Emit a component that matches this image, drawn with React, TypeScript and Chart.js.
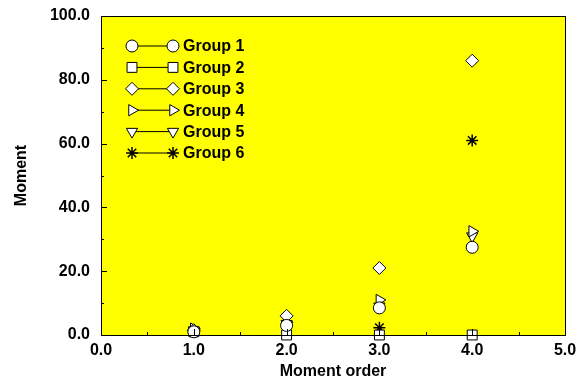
import React, { useEffect, useRef } from "react";
import { Chart, registerables } from "chart.js";
import { drawPoint } from "chart.js/helpers";

Chart.register(...registerables);

const momentOrders = [1, 2, 3, 4];
const groupNames = ["Group 1", "Group 2", "Group 3", "Group 4", "Group 5", "Group 6"];
const group1 = [1, 3, 8.5, 27.5];
const group2 = [1, 0, 0, 0];
const group3 = [1.5, 6, 21, 86];
const group4 = [2, 4, 11, 32.5];
const group5 = [1.5, 3.5, 9, 31];
const group6 = [1, 3, 2.3, 61];
const xTicks = [0, 1, 2, 3, 4, 5];
const yTicks = [0, 20, 40, 60, 80, 100];

const FONT = "'Liberation Sans', Arial, sans-serif";

const markerStyles = [
  { pointStyle: "circle", rotation: 0, radius: 6 },
  { pointStyle: "rect", rotation: 0, radius: 7 },
  { pointStyle: "rectRot", rotation: 0, radius: 6.5 },
  { pointStyle: "triangle", rotation: 90, radius: 6.5 },
  { pointStyle: "triangle", rotation: 180, radius: 6.5 },
  { pointStyle: "star", rotation: 0, radius: 6 },
];

const seriesValues = [group1, group2, group3, group4, group5, group6];

const framePlugin = {
  id: "frame",
  beforeDraw(chart: any) {
    const { ctx, chartArea: a } = chart;
    ctx.save();
    ctx.fillStyle = "#FFFF00";
    ctx.fillRect(a.left, a.top, a.right - a.left, a.bottom - a.top);
    ctx.restore();
  },
  afterDatasetsDraw(chart: any) {
    const { ctx, chartArea: a } = chart;
    const xs = chart.scales.x;
    const ys = chart.scales.y;
    ctx.save();
    ctx.strokeStyle = "#000";
    ctx.lineWidth = 1;
    ctx.beginPath();
    for (let v = 0.5; v < 5; v += 0.5) {
      const px = Math.round(xs.getPixelForValue(v)) + 0.5;
      const len = Math.abs(v - Math.round(v)) < 1e-6 ? 6 : 3;
      ctx.moveTo(px, a.bottom);
      ctx.lineTo(px, a.bottom - len);
    }
    for (let v = 10; v < 100; v += 10) {
      const py = Math.round(ys.getPixelForValue(v)) + 0.5;
      const len = v % 20 === 0 ? 6 : 3;
      ctx.moveTo(a.left, py);
      ctx.lineTo(a.left + len, py);
    }
    ctx.stroke();
    ctx.lineWidth = 1;
    ctx.strokeRect(Math.round(a.left) + 0.5, Math.round(a.top) + 0.5, Math.round(a.right - a.left), Math.round(a.bottom - a.top));
    ctx.restore();
  },
  afterDraw(chart: any) {
    const { ctx, chartArea: a } = chart;
    ctx.save();
    ctx.font = `bold 16px ${FONT}`;
    ctx.textAlign = "left";
    ctx.textBaseline = "middle";
    groupNames.forEach((name, i) => {
      const y = a.top + 30 + 21.4 * i;
      const x1 = a.left + 31;
      const x2 = a.left + 72;
      ctx.strokeStyle = "#000";
      ctx.lineWidth = 1;
      ctx.beginPath();
      ctx.moveTo(x1, y);
      ctx.lineTo(x2, y);
      ctx.stroke();
      const m = markerStyles[i];
      const opts = {
        pointStyle: m.pointStyle,
        rotation: m.rotation,
        radius: m.radius,
        borderWidth: i === 5 ? 1.5 : 1,
      };
      ctx.fillStyle = "#fff";
      ctx.strokeStyle = "#000";
      ctx.lineWidth = opts.borderWidth;
      drawPoint(ctx, opts, x1, y);
      ctx.fillStyle = "#fff";
      ctx.strokeStyle = "#000";
      drawPoint(ctx, opts, x2, y);
      ctx.fillStyle = "#000";
      ctx.fillText(name, a.left + 82, y + 1);
    });
    ctx.restore();
  },
};

export default function App() {
  const ref = useRef<HTMLCanvasElement>(null);
  useEffect(() => {
    document.body.style.margin = "0";
    const datasets = seriesValues.map((vals, i) => ({
      label: groupNames[i],
      data: momentOrders.map((x, j) => ({ x, y: vals[j] })),
      showLine: false,
      pointStyle: markerStyles[i].pointStyle,
      rotation: markerStyles[i].rotation,
      pointRadius: markerStyles[i].radius,
      pointBackgroundColor: "#fff",
      pointBorderColor: "#000",
      pointBorderWidth: i === 5 ? 1.5 : 1,
      clip: false as any,
    }));
    const chart = new Chart(ref.current!, {
      type: "scatter",
      data: { datasets: datasets as any },
      plugins: [framePlugin],
      options: {
        responsive: false,
        animation: false,
        layout: { padding: { left: 0, top: 16, right: 18, bottom: 0 } },
        plugins: { legend: { display: false }, tooltip: { enabled: false } },
        scales: {
          x: {
            type: "linear",
            min: 0,
            max: 5,
            afterBuildTicks: (s: any) => {
              s.ticks = xTicks.map((v) => ({ value: v }));
            },
            afterFit: (s: any) => {
              s.height = 48;
              s.paddingLeft = 0;
              s.paddingRight = 0;
            },
            ticks: {
              color: "#000",
              font: { family: FONT, size: 16, weight: "bold" },
              padding: 6,
              maxRotation: 0,
              callback: (v: any) => Number(v).toFixed(1),
            },
            grid: { display: false, drawTicks: false },
            border: { display: true, color: "#000", width: 1 },
            title: {
              display: true,
              text: "Moment order",
              color: "#000",
              font: { family: FONT, size: 16, weight: "bold" },
              padding: { top: 0, bottom: 2 },
            },
          },
          y: {
            type: "linear",
            min: 0,
            max: 100,
            afterBuildTicks: (s: any) => {
              s.ticks = yTicks.map((v) => ({ value: v }));
            },
            afterFit: (s: any) => {
              s.width = 101;
              s.paddingTop = 0;
              s.paddingBottom = 0;
            },
            ticks: {
              color: "#000",
              font: { family: FONT, size: 16, weight: "bold" },
              padding: 11,
              callback: (v: any) => Number(v).toFixed(1),
            },
            grid: { display: false, drawTicks: false },
            border: { display: true, color: "#000", width: 1 },
            title: {
              display: true,
              text: "Moment",
              color: "#000",
              font: { family: FONT, size: 16, weight: "bold" },
              padding: { top: 12, bottom: 0 },
            },
          },
        },
      },
    });
    return () => chart.destroy();
  }, []);
  return <canvas ref={ref} width={583} height={383} style={{ display: "block" }} />;
}
